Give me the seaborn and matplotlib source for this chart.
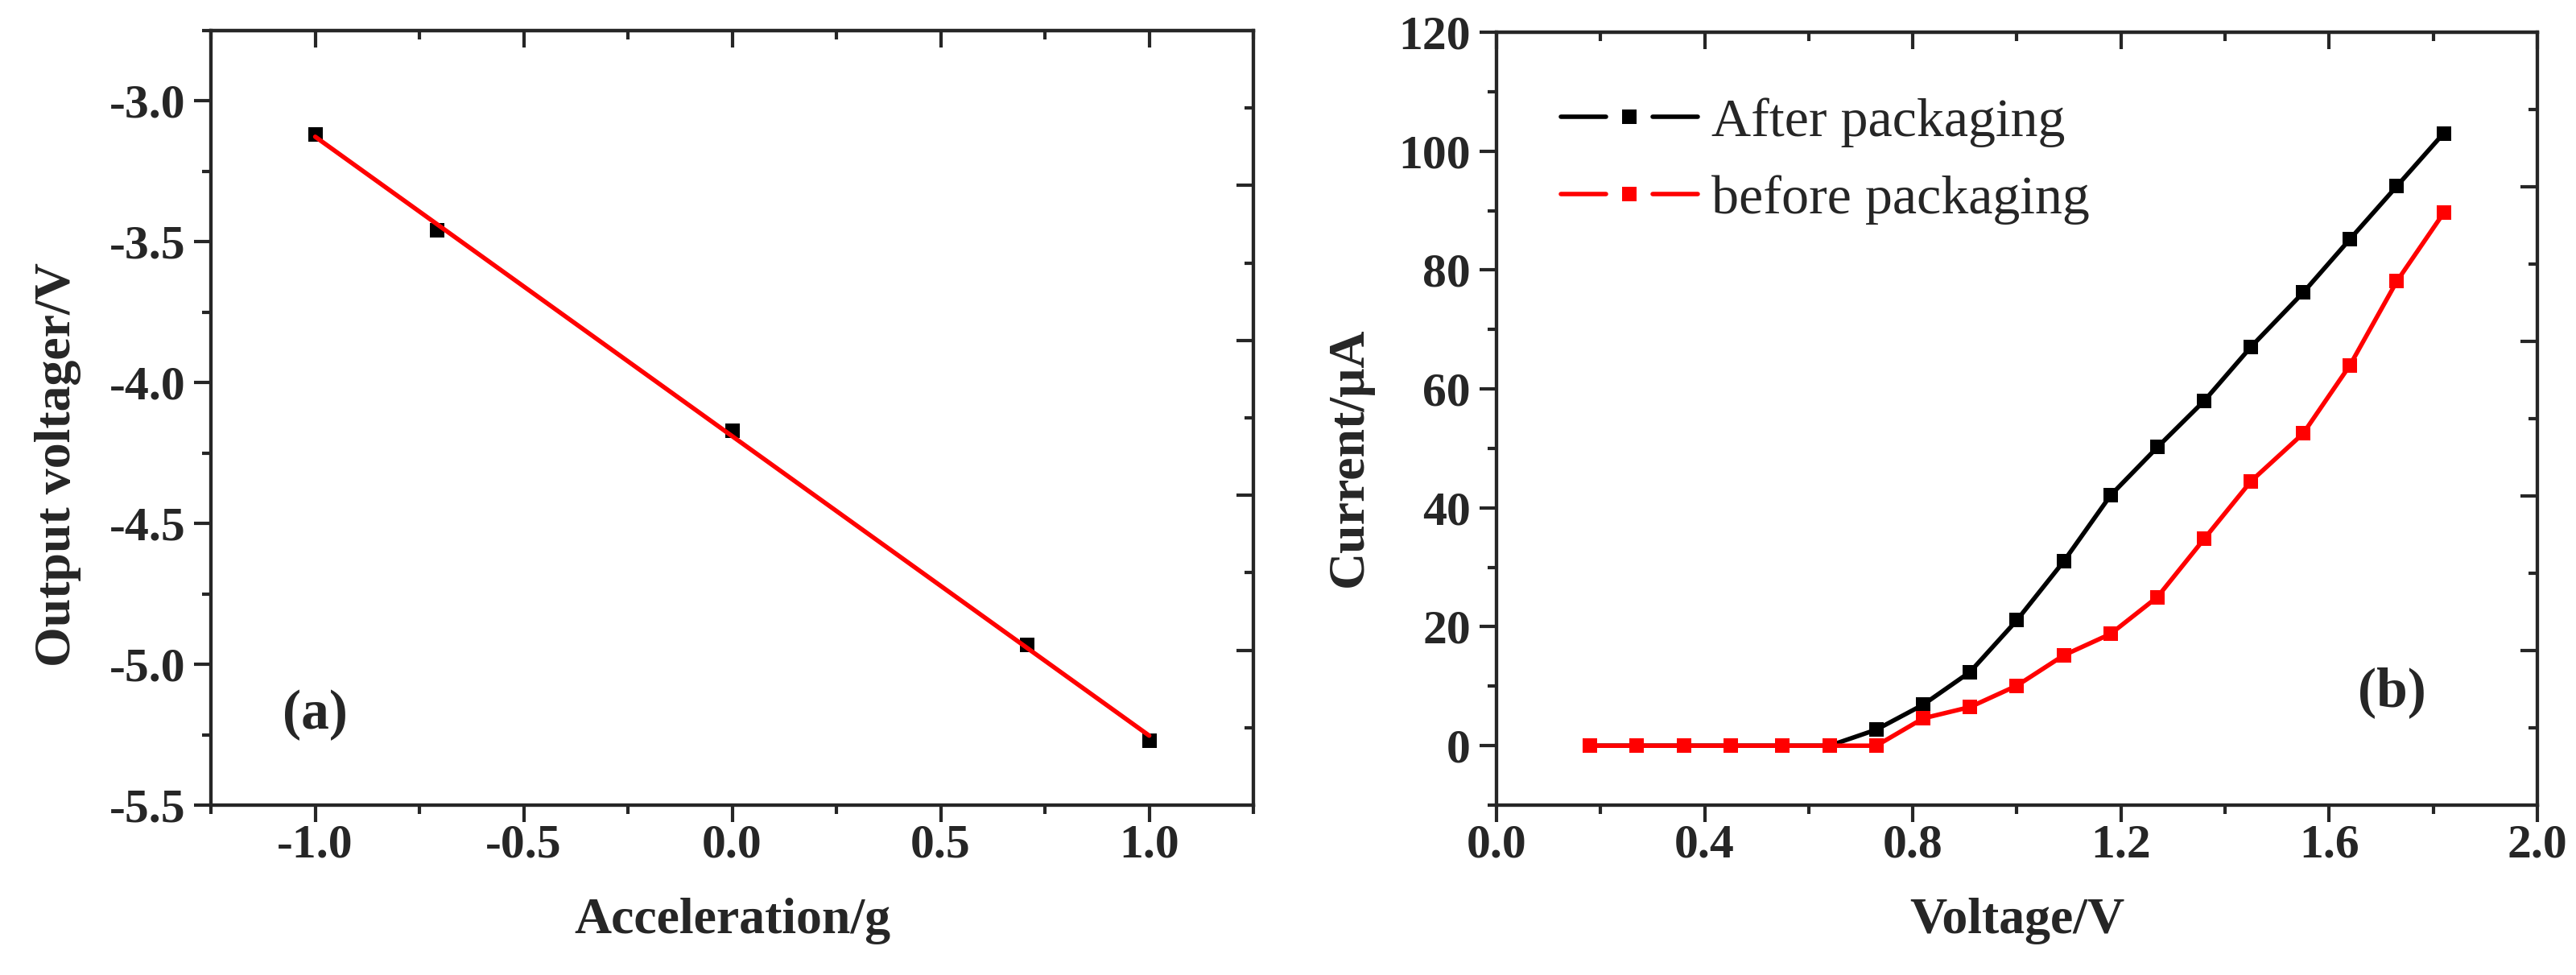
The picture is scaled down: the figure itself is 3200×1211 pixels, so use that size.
import numpy as np
import matplotlib
matplotlib.use("Agg")
import matplotlib.pyplot as plt
import seaborn as sns
from matplotlib.ticker import MultipleLocator, FixedLocator
from matplotlib.legend_handler import HandlerBase
from matplotlib.lines import Line2D

# ---- data: panel (a) ----
accel = [-1.0, -0.707, 0.0, 0.707, 1.0]
out_volt = [-3.12, -3.46, -4.17, -4.93, -5.27]

# ---- data: panel (b) ----
voltage = [0.18, 0.27, 0.36, 0.45, 0.55, 0.64, 0.73, 0.82, 0.91, 1.00,
           1.09, 1.18, 1.27, 1.36, 1.45, 1.55, 1.64, 1.73, 1.82]
after_pack = [0, 0, 0, 0, 0, 0, 2.7, 6.9, 12.4, 21.1,
              31.0, 42.1, 50.2, 58.0, 67.1, 76.2, 85.2, 94.1, 103.0]
before_pack = [0, 0, 0, 0, 0, 0, 0, 4.6, 6.5, 10.1,
               15.2, 18.8, 25.0, 34.8, 44.5, 52.5, 64.0, 78.1, 89.6]

sns.set_style("ticks")
plt.rcParams["font.family"] = ["Liberation Serif", "DejaVu Serif"]
plt.rcParams["axes.unicode_minus"] = False
plt.rcParams["axes.linewidth"] = 1.5

fig = plt.figure(figsize=(16, 6.055), dpi=200)
ax1 = fig.add_axes([0.0819, 0.1742, 0.4047, 0.7944])
ax2 = fig.add_axes([0.5809, 0.1742, 0.4041, 0.7928])

TICK_FS = 21.5
LABEL_FS = 23


class GapLineHandler(HandlerBase):
    # Origin-style legend entry: line, gap, symbol, gap, line
    def create_artists(self, legend, orig_handle, xdescent, ydescent,
                       width, height, fontsize, trans):
        c = orig_handle.get_color()
        lw = orig_handle.get_linewidth()
        ms = orig_handle.get_markersize()
        y = height / 2 - ydescent
        x0 = -xdescent
        left = Line2D([x0, x0 + width * 0.33], [y, y], color=c, lw=lw,
                      solid_capstyle="round", transform=trans)
        right = Line2D([x0 + width * 0.67, x0 + width], [y, y], color=c, lw=lw,
                       solid_capstyle="round", transform=trans)
        mark = Line2D([x0 + width * 0.5], [y], color=c, marker="s",
                      markersize=ms, markeredgewidth=0, ls="none",
                      transform=trans)
        return [left, right, mark]


def style_axes(ax, xmaj, xmin, ymaj, ymin):
    ax.xaxis.set_major_locator(MultipleLocator(xmaj))
    ax.xaxis.set_minor_locator(MultipleLocator(xmin))
    ax.yaxis.set_major_locator(MultipleLocator(ymaj))
    ax.yaxis.set_minor_locator(MultipleLocator(ymin))
    ax.tick_params(which="major", direction="out", length=7.5, width=1.5,
                   labelsize=TICK_FS, top=False, right=False)
    ax.tick_params(which="minor", direction="out", length=4, width=1.5,
                   top=False, right=False)
    ax.tick_params(axis="x", which="major", pad=1)
    ax.tick_params(axis="y", which="major", pad=4)
    for lab in ax.get_xticklabels() + ax.get_yticklabels():
        lab.set_fontweight("bold")
    for s in ax.spines.values():
        s.set_visible(True)
        s.set_linewidth(1.5)
    # mirrored ticks on top, pointing inwards
    top = ax.secondary_xaxis("top")
    top.xaxis.set_major_locator(MultipleLocator(xmaj))
    top.xaxis.set_minor_locator(MultipleLocator(xmin))
    top.tick_params(which="major", direction="in", length=7.5, width=1.5,
                    labeltop=False)
    top.tick_params(which="minor", direction="in", length=4, width=1.5)
    top.spines["top"].set_linewidth(1.5)
    # independent right-hand ticks, pointing inwards
    rt = ax.twinx()
    rt.set_ylim(0, 1)
    rt.yaxis.set_major_locator(FixedLocator([0.2, 0.4, 0.6, 0.8]))
    rt.yaxis.set_minor_locator(FixedLocator([0.1, 0.3, 0.5, 0.7, 0.9]))
    rt.tick_params(which="major", direction="in", length=7.5, width=1.5,
                   labelright=False)
    rt.tick_params(which="minor", direction="in", length=4, width=1.5)
    for s in rt.spines.values():
        s.set_linewidth(1.5)


# ---- panel (a) ----
sns.regplot(x=accel, y=out_volt, ax=ax1, ci=None, marker="s", color="black",
            scatter_kws={"s": 45, "color": "black", "alpha": 1,
                         "linewidths": 0, "zorder": 3},
            line_kws={"color": "red", "lw": 2.0, "zorder": 4})
ax1.set_xlim(-1.25, 1.25)
ax1.set_ylim(-5.5, -2.75)
style_axes(ax1, 0.5, 0.25, 0.5, 0.25)
ax1.set_xlabel("Acceleration/g", fontsize=LABEL_FS, fontweight="bold")
ax1.set_ylabel("Output voltager/V", fontsize=LABEL_FS, fontweight="bold")
ax1.xaxis.set_label_coords(0.5, -0.12)
ax1.yaxis.set_label_coords(-0.124, 0.44)
ax1.text(-1.0, -5.18, "(a)", fontsize=25, fontweight="bold",
         ha="center", va="center")

# ---- panel (b) ----
sns.lineplot(x=voltage, y=after_pack, ax=ax2, color="black", marker="s",
             markersize=6.5, markeredgewidth=0, lw=2.0,
             label="After packaging", zorder=3)
sns.lineplot(x=voltage, y=before_pack, ax=ax2, color="red", marker="s",
             markersize=6.5, markeredgewidth=0, lw=2.0,
             label="before packaging", zorder=4)
ax2.set_xlim(0.0, 2.0)
ax2.set_ylim(-10, 120)
style_axes(ax2, 0.4, 0.2, 20, 10)
ax2.xaxis.set_major_formatter(matplotlib.ticker.FormatStrFormatter("%.1f"))
ax2.set_xlabel("Voltage/V", fontsize=LABEL_FS, fontweight="bold")
ax2.set_ylabel("Current/\u03bcA", fontsize=LABEL_FS, fontweight="bold")
ax2.xaxis.set_label_coords(0.5, -0.12)
ax2.yaxis.set_label_coords(-0.118, 0.45)
ax2.text(1.72, 8.9, "(b)", fontsize=25, fontweight="bold",
         ha="center", va="center")
handles, labels = ax2.get_legend_handles_labels()
ax2.legend(handles, labels, loc="upper left", bbox_to_anchor=(0.062, 0.915),
           frameon=False, fontsize=24.5, handlelength=2.5, handletextpad=0.25,
           labelspacing=0.5, borderpad=0, borderaxespad=0,
           handler_map={Line2D: GapLineHandler()})

fig.savefig("out.png", dpi=200)
